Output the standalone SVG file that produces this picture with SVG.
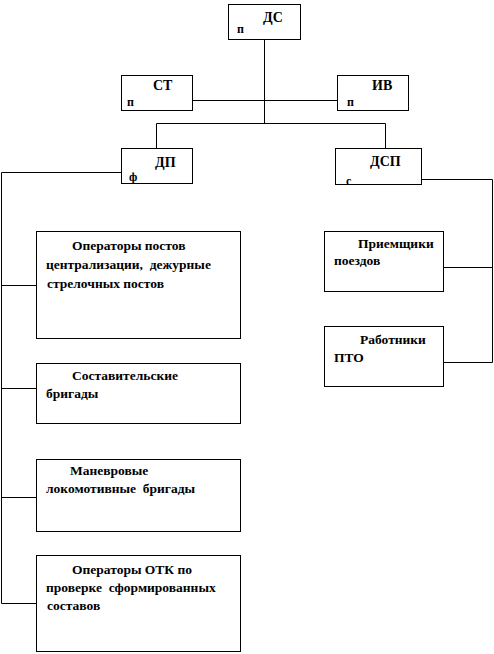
<svg xmlns="http://www.w3.org/2000/svg" width="494" height="654" viewBox="0 0 494 654">
<style>
.box{fill:#fff;stroke:#000;stroke-width:1}
.ln{fill:none;stroke:#000;stroke-width:1}
.t{font-family:'Liberation Serif','Times New Roman','DejaVu Serif',serif;font-weight:bold;font-size:13.5px;fill:#000}
.h{font-family:'Liberation Serif','Times New Roman','DejaVu Serif',serif;font-weight:bold;font-size:14px;fill:#000}
.s{font-family:'Liberation Serif','Times New Roman','DejaVu Serif',serif;font-weight:bold;font-size:12px;fill:#000}
</style>
<rect width="494" height="654" fill="#fff"/>
<g id="connectors">
<path class="ln" d="M264.5 40V123.5"/>
<path class="ln" d="M192 100.5H337"/>
<path class="ln" d="M156.5 123.5H385.5"/>
<path class="ln" d="M156.5 123.5V149"/>
<path class="ln" d="M385.5 123.5V149"/>
<path class="ln" d="M121 172.5H1.5V603.5H36"/>
<path class="ln" d="M1.5 285.5H36"/>
<path class="ln" d="M1.5 388.5H36"/>
<path class="ln" d="M1.5 497.5H36"/>
<path class="ln" d="M421 179.5H492.5V362.5H444"/>
<path class="ln" d="M444 267.5H492.5"/>
</g>
<g id="ds">
<rect class="box" x="228.5" y="4.5" width="72" height="35"/>
<text class="h" x="263" y="22">ДС</text>
<text class="s" x="237" y="33">п</text>
</g>
<g id="st">
<rect class="box" x="121.5" y="75.5" width="71" height="35"/>
<text class="h" x="153" y="90">СТ</text>
<text class="s" x="127" y="106">п</text>
</g>
<g id="iv">
<rect class="box" x="337.5" y="75.5" width="71" height="35"/>
<text class="h" x="372" y="90">ИВ</text>
<text class="s" x="347" y="106">п</text>
</g>
<g id="dp">
<rect class="box" x="121.5" y="148.5" width="71" height="35"/>
<text class="h" x="155" y="167">ДП</text>
<text class="s" x="129" y="181">ф</text>
</g>
<g id="dsp">
<rect class="box" x="335.5" y="148.5" width="86" height="36"/>
<text class="h" x="370" y="166">ДСП</text>
<text class="s" x="346" y="185">с</text>
</g>
<g id="operators">
<rect class="box" x="36.5" y="231.5" width="204" height="107"/>
<text class="t" x="72" y="250">Операторы постов</text>
<text class="t" x="46" y="269" xml:space="preserve">централизации,  дежурные</text>
<text class="t" x="47" y="288">стрелочных постов</text>
</g>
<g id="sostav">
<rect class="box" x="36.5" y="363.5" width="204" height="60"/>
<text class="t" x="72" y="380">Составительские</text>
<text class="t" x="46" y="398">бригады</text>
</g>
<g id="manevr">
<rect class="box" x="36.5" y="459.5" width="204" height="72"/>
<text class="t" x="70" y="475">Маневровые</text>
<text class="t" x="46" y="493" xml:space="preserve">локомотивные  бригады</text>
</g>
<g id="otk">
<rect class="box" x="36.5" y="555.5" width="204" height="96"/>
<text class="t" x="72" y="574">Операторы ОТК по</text>
<text class="t" x="46" y="592" xml:space="preserve">проверке  сформированных</text>
<text class="t" x="47" y="610">составов</text>
</g>
<g id="priem">
<rect class="box" x="324.5" y="231.5" width="119" height="60"/>
<text class="t" x="358" y="248">Приемщики</text>
<text class="t" x="334" y="265">поездов</text>
</g>
<g id="pto">
<rect class="box" x="324.5" y="326.5" width="119" height="60"/>
<text class="t" x="360" y="344">Работники</text>
<text class="t" x="334" y="362">ПТО</text>
</g>
</svg>
